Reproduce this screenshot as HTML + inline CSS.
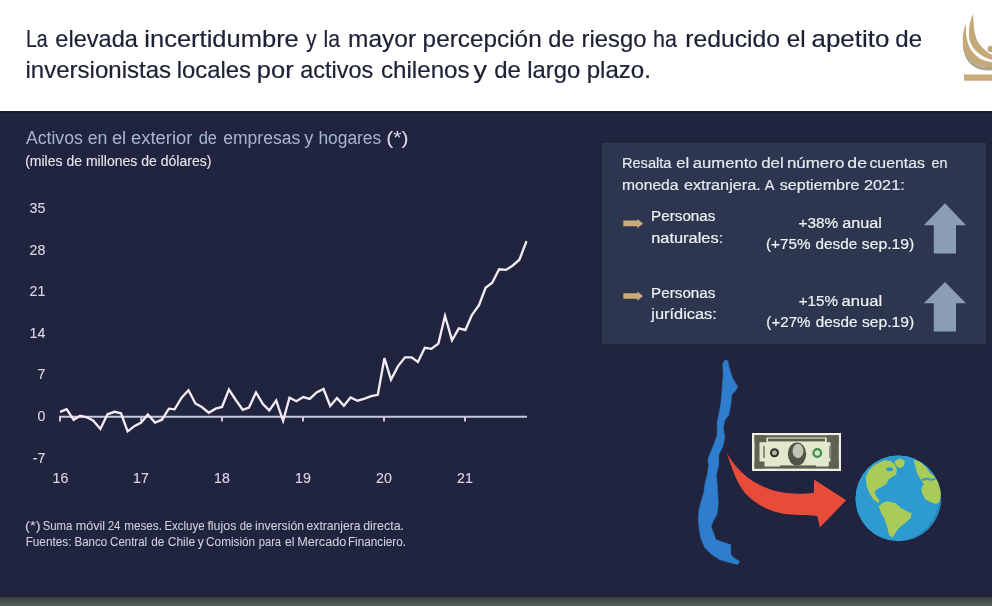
<!DOCTYPE html>
<html><head><meta charset="utf-8">
<style>
html,body{margin:0;padding:0;width:992px;height:606px;overflow:hidden;background:#20243e;}
svg{display:block;will-change:transform;}
text{font-family:"Liberation Sans",sans-serif;}
</style></head>
<body>
<svg width="992" height="606" viewBox="0 0 992 606">
<defs>
  <linearGradient id="btm" x1="0" y1="0" x2="0" y2="1">
    <stop offset="0" stop-color="#363e3e"/>
    <stop offset="0.5" stop-color="#485050"/>
    <stop offset="1" stop-color="#545b5b"/>
  </linearGradient>
  <clipPath id="gclip"><circle cx="308" cy="308" r="247"/></clipPath>
</defs>
<!-- header -->
<rect x="0" y="0" width="992" height="111" fill="#ffffff"/>
<rect x="0" y="111" width="992" height="2" fill="#1a1c31"/>
<rect x="0" y="113" width="992" height="480" fill="#20243e"/>
<rect x="0" y="593" width="992" height="4" fill="#1f2333"/>
<rect x="0" y="597" width="992" height="9" fill="url(#btm)"/>

<!-- title -->
<g fill="#1c2136" font-size="24" stroke="#1c2136" stroke-width="0.2">
  <text x="25.90" y="46.5" textLength="21.70" lengthAdjust="spacingAndGlyphs">La</text>
  <text x="55.30" y="46.5" textLength="82.60" lengthAdjust="spacingAndGlyphs">elevada</text>
  <text x="144.29" y="46.5" textLength="154.54" lengthAdjust="spacingAndGlyphs">incertidumbre</text>
  <text x="306.15" y="46.5" textLength="10.29" lengthAdjust="spacingAndGlyphs">y</text>
  <text x="323.47" y="46.5" textLength="16.53" lengthAdjust="spacingAndGlyphs">la</text>
  <text x="347.97" y="46.5" textLength="68.14" lengthAdjust="spacingAndGlyphs">mayor</text>
  <text x="422.63" y="46.5" textLength="119.05" lengthAdjust="spacingAndGlyphs">percepción</text>
  <text x="548.31" y="46.5" textLength="26.35" lengthAdjust="spacingAndGlyphs">de</text>
  <text x="581.62" y="46.5" textLength="64.78" lengthAdjust="spacingAndGlyphs">riesgo</text>
  <text x="653.01" y="46.5" textLength="23.89" lengthAdjust="spacingAndGlyphs">ha</text>
  <text x="685.26" y="46.5" textLength="94.88" lengthAdjust="spacingAndGlyphs">reducido</text>
  <text x="786.87" y="46.5" textLength="18.85" lengthAdjust="spacingAndGlyphs">el</text>
  <text x="811.50" y="46.5" textLength="77.79" lengthAdjust="spacingAndGlyphs">apetito</text>
  <text x="895.29" y="46.5" textLength="26.78" lengthAdjust="spacingAndGlyphs">de</text>
  <text x="25.49" y="78.2" textLength="145.58" lengthAdjust="spacingAndGlyphs">inversionistas</text>
  <text x="176.69" y="78.2" textLength="74.27" lengthAdjust="spacingAndGlyphs">locales</text>
  <text x="256.86" y="78.2" textLength="36.76" lengthAdjust="spacingAndGlyphs">por</text>
  <text x="300.30" y="78.2" textLength="72.94" lengthAdjust="spacingAndGlyphs">activos</text>
  <text x="380.97" y="78.2" textLength="88.60" lengthAdjust="spacingAndGlyphs">chilenos</text>
  <text x="473.43" y="78.2" textLength="13.52" lengthAdjust="spacingAndGlyphs">y</text>
  <text x="494.29" y="78.2" textLength="26.67" lengthAdjust="spacingAndGlyphs">de</text>
  <text x="527.19" y="78.2" textLength="53.01" lengthAdjust="spacingAndGlyphs">largo</text>
  <text x="586.65" y="78.2" textLength="64.25" lengthAdjust="spacingAndGlyphs">plazo.</text>
</g>

<!-- logo -->
<g>
  <rect x="964" y="74.4" width="28" height="6.3" fill="#c9ab79"/>
  <path d="M962.6,44 C963.2,56 968.5,64 976.8,68.3 C982,70.6 987,70.8 992,70.2 L992,67.1 C986,67 981,66.4 977.4,64.9 C970,61.2 965.5,56 962.6,44 Z" fill="#aca390"/>
  <path d="M966.1,23.2 C963,30 961.8,40 963.5,48 C965.5,56 970,61.2 977.4,64.9 C981,66.4 986,67 992,67.1 L992,62 C986,61.5 981,59.5 977.4,56.7 C972,52.5 969,47 967.3,41 C965.8,35 965.6,28 966.1,23.2 Z" fill="#c4a878"/>
  <path d="M973.1,13.4 C970,20 968.6,28 969,36 C969.5,42 972,48 977.4,52.3 C981,55.5 986,58.5 992,59.7 L992,54.9 C988,53.5 985.5,50.5 983.4,48.6 C980,45.5 978.5,43 977.4,41.1 C975.5,36.5 974.3,32 974,28 C973.6,22 973.3,17 973.1,13.4 Z" fill="#c4a878"/>
  <circle cx="990.8" cy="49" r="3.2" fill="#c4a878"/>
</g>

<!-- GEN START -->
<g font-size="18" fill="#a6b6cf" stroke="#a6b6cf" stroke-width="0.01">
<text x="25.97" y="143.8" textLength="56.77" lengthAdjust="spacingAndGlyphs">Activos</text>
<text x="87.75" y="143.8" textLength="19.70" lengthAdjust="spacingAndGlyphs">en</text>
<text x="111.93" y="143.8" textLength="14.19" lengthAdjust="spacingAndGlyphs">el</text>
<text x="131.02" y="143.8" textLength="61.39" lengthAdjust="spacingAndGlyphs">exterior</text>
<text x="198.71" y="143.8" textLength="18.32" lengthAdjust="spacingAndGlyphs">de</text>
<text x="223.26" y="143.8" textLength="76.98" lengthAdjust="spacingAndGlyphs">empresas</text>
<text x="304.16" y="143.8" textLength="9.08" lengthAdjust="spacingAndGlyphs">y</text>
<text x="318.39" y="143.8" textLength="62.83" lengthAdjust="spacingAndGlyphs">hogares</text>
</g>
<g font-size="18" fill="#dcdde6" stroke="#dcdde6" stroke-width="0.01"><text x="386.29" y="143.8" textLength="22.32" lengthAdjust="spacingAndGlyphs">(*)</text></g>
<g font-size="14.3" fill="#e8e8f0" stroke="#e8e8f0" stroke-width="0.1"><text x="25.13" y="166.1" textLength="186.24" lengthAdjust="spacingAndGlyphs">(miles de millones de dólares)</text></g>
<!-- GEN END -->

<!-- y labels -->
<g font-size="14.2" fill="#d8d9e4" stroke="#d8d9e4" stroke-width="0.12" text-anchor="end">
  <text x="45.4" y="213.2">35</text>
  <text x="45.4" y="254.7">28</text>
  <text x="45.4" y="296.2">21</text>
  <text x="45.4" y="337.7">14</text>
  <text x="45.4" y="379.2">7</text>
  <text x="45.4" y="420.7">0</text>
  <text x="45.4" y="462.7">-7</text>
</g>
<!-- x labels -->
<g font-size="14.2" fill="#d8d9e4" stroke="#d8d9e4" stroke-width="0.12" text-anchor="middle">
  <text x="60.4" y="483.1">16</text>
  <text x="141" y="483.1">17</text>
  <text x="222" y="483.1">18</text>
  <text x="303" y="483.1">19</text>
  <text x="384" y="483.1">20</text>
  <text x="465" y="483.1">21</text>
</g>

<!-- axis -->
<g stroke="#c6c8dc" stroke-width="2" fill="none">
  <line x1="59" y1="416.8" x2="527" y2="416.8"/>
  <line x1="60" y1="416" x2="60" y2="421.5"/>
  <line x1="141.2" y1="416" x2="141.2" y2="421.5"/>
  <line x1="222" y1="416" x2="222" y2="421.5"/>
  <line x1="303" y1="416" x2="303" y2="421.5"/>
  <line x1="384" y1="416" x2="384" y2="421.5"/>
  <line x1="465" y1="416" x2="465" y2="421.5"/>
</g>
<!-- data line -->
<polyline fill="none" stroke="#f4ebf4" stroke-width="2.35" stroke-linejoin="miter" points="60.1,411.8 66.6,409.2 73.7,419.8 80.2,415.8 86.8,417.3 93.3,420.8 100.4,428.9 107.5,414.3 114.5,411.8 121.0,413.3 127.6,431.4 134.7,425.9 141.2,422.6 147.9,414.5 155.0,422.5 161.9,419.7 168.9,408.7 174.6,409.3 181.6,397.7 188.5,390.2 195.4,403.5 201.8,407.0 208.7,412.7 215.6,408.7 222.0,407.0 228.9,389.6 235.8,400.0 242.7,409.8 249.0,407.5 256.0,392.5 262.9,404.0 269.3,410.4 276.2,400.6 283.1,420.8 289.5,397.7 296.4,401.2 303.3,397.1 309.7,398.9 316.6,392.5 323.5,389.0 330.2,406.0 337.0,398.1 343.9,405.7 350.5,397.4 357.6,400.7 364.6,398.6 371.2,396.1 377.8,394.8 384.4,358.2 391.0,379.6 397.9,366.4 405.0,357.3 411.6,357.3 417.9,362.0 424.8,347.8 431.4,348.8 438.4,343.6 445.0,315.8 452.0,340.3 458.8,328.4 465.4,330.0 471.9,315.0 479.0,305.1 485.6,287.8 492.2,282.8 499.1,269.3 505.9,269.9 512.8,265.5 519.4,259.7 526.5,241.2"/>

<!-- info box -->
<rect x="601" y="142" width="386" height="203" fill="#2c374f" stroke="#1b2034" stroke-width="1"/>
<!-- GEN2 START -->
<g font-size="15.2" fill="#e6e8ef" stroke="#e6e8ef" stroke-width="0.2">
<text x="621.90" y="168.4" textLength="49.60" lengthAdjust="spacingAndGlyphs">Resalta</text>
<text x="676.30" y="168.4" textLength="12.91" lengthAdjust="spacingAndGlyphs">el</text>
<text x="692.89" y="168.4" textLength="64.70" lengthAdjust="spacingAndGlyphs">aumento</text>
<text x="761.19" y="168.4" textLength="22.54" lengthAdjust="spacingAndGlyphs">del</text>
<text x="786.98" y="168.4" textLength="57.33" lengthAdjust="spacingAndGlyphs">número</text>
<text x="847.36" y="168.4" textLength="19.73" lengthAdjust="spacingAndGlyphs">de</text>
<text x="869.43" y="168.4" textLength="55.65" lengthAdjust="spacingAndGlyphs">cuentas</text>
<text x="931.49" y="168.4" textLength="15.94" lengthAdjust="spacingAndGlyphs">en</text>
<text x="622.06" y="189.5" textLength="56.44" lengthAdjust="spacingAndGlyphs">moneda</text>
<text x="683.91" y="189.5" textLength="76.98" lengthAdjust="spacingAndGlyphs">extranjera.</text>
<text x="764.87" y="189.5" textLength="9.66" lengthAdjust="spacingAndGlyphs">A</text>
<text x="779.65" y="189.5" textLength="79.77" lengthAdjust="spacingAndGlyphs">septiembre</text>
<text x="863.98" y="189.5" textLength="40.81" lengthAdjust="spacingAndGlyphs">2021:</text>
</g>
<g font-size="15.4" fill="#f0f1f5" stroke="#f0f1f5" stroke-width="0.2">
<text x="651.05" y="221.2" textLength="64.40" lengthAdjust="spacingAndGlyphs">Personas</text>
<text x="651.21" y="242.5" textLength="71.99" lengthAdjust="spacingAndGlyphs">naturales:</text>
<text x="651.05" y="298" textLength="64.40" lengthAdjust="spacingAndGlyphs">Personas</text>
<text x="651.30" y="318.9" textLength="65.49" lengthAdjust="spacingAndGlyphs">jurídicas:</text>
<text x="798.45" y="228" textLength="39.59" lengthAdjust="spacingAndGlyphs">+38%</text>
<text x="842.21" y="228" textLength="39.67" lengthAdjust="spacingAndGlyphs">anual</text>
<text x="766.06" y="248.5" textLength="44.39" lengthAdjust="spacingAndGlyphs">(+75%</text>
<text x="815.46" y="248.5" textLength="41.72" lengthAdjust="spacingAndGlyphs">desde</text>
<text x="861.86" y="248.5" textLength="52.51" lengthAdjust="spacingAndGlyphs">sep.19)</text>
<text x="798.76" y="305.9" textLength="39.18" lengthAdjust="spacingAndGlyphs">+15%</text>
<text x="841.60" y="305.9" textLength="40.51" lengthAdjust="spacingAndGlyphs">anual</text>
<text x="766.36" y="326.7" textLength="44.18" lengthAdjust="spacingAndGlyphs">(+27%</text>
<text x="815.86" y="326.7" textLength="41.62" lengthAdjust="spacingAndGlyphs">desde</text>
<text x="861.96" y="326.7" textLength="52.21" lengthAdjust="spacingAndGlyphs">sep.19)</text>
</g>
<g font-size="12" fill="#d0d3de" stroke="#d0d3de" stroke-width="0.05">
<text x="25.09" y="530.3" textLength="15.52" lengthAdjust="spacingAndGlyphs">(*)</text>
<text x="42.68" y="530.3" textLength="29.72" lengthAdjust="spacingAndGlyphs">Suma</text>
<text x="75.66" y="530.3" textLength="29.38" lengthAdjust="spacingAndGlyphs">móvil</text>
<text x="107.63" y="530.3" textLength="12.71" lengthAdjust="spacingAndGlyphs">24</text>
<text x="124.32" y="530.3" textLength="37.64" lengthAdjust="spacingAndGlyphs">meses.</text>
<text x="164.46" y="530.3" textLength="40.15" lengthAdjust="spacingAndGlyphs">Excluye</text>
<text x="207.42" y="530.3" textLength="28.92" lengthAdjust="spacingAndGlyphs">flujos</text>
<text x="239.73" y="530.3" textLength="12.58" lengthAdjust="spacingAndGlyphs">de</text>
<text x="255.08" y="530.3" textLength="48.91" lengthAdjust="spacingAndGlyphs">inversión</text>
<text x="306.58" y="530.3" textLength="54.02" lengthAdjust="spacingAndGlyphs">extranjera</text>
<text x="363.18" y="530.3" textLength="40.86" lengthAdjust="spacingAndGlyphs">directa.</text>
<text x="25.63" y="545.7" textLength="45.84" lengthAdjust="spacingAndGlyphs">Fuentes:</text>
<text x="74.45" y="545.7" textLength="32.73" lengthAdjust="spacingAndGlyphs">Banco</text>
<text x="110.12" y="545.7" textLength="36.95" lengthAdjust="spacingAndGlyphs">Central</text>
<text x="151.30" y="545.7" textLength="13.12" lengthAdjust="spacingAndGlyphs">de</text>
<text x="167.79" y="545.7" textLength="27.34" lengthAdjust="spacingAndGlyphs">Chile</text>
<text x="197.67" y="545.7" textLength="6.05" lengthAdjust="spacingAndGlyphs">y</text>
<text x="206.10" y="545.7" textLength="49.06" lengthAdjust="spacingAndGlyphs">Comisión</text>
<text x="258.68" y="545.7" textLength="22.42" lengthAdjust="spacingAndGlyphs">para</text>
<text x="285.09" y="545.7" textLength="9.42" lengthAdjust="spacingAndGlyphs">el</text>
<text x="297.17" y="545.7" textLength="49.06" lengthAdjust="spacingAndGlyphs">Mercado</text>
<text x="347.94" y="545.7" textLength="58.14" lengthAdjust="spacingAndGlyphs">Financiero.</text>
</g>
<!-- GEN2 END -->
<!-- gold arrows -->
<g fill="#c9aa78">
  <path d="M623.3,220.6 L637.4,220.6 L637.4,219 L643,223.5 L637.4,228.2 L637.4,226.2 L623.3,226.2 Z"/>
  <path d="M623.3,293.2 L637.4,293.2 L637.4,291.5 L643,296 L637.4,300.7 L637.4,298.8 L623.3,298.8 Z"/>
</g>
<!-- up arrows -->
<g fill="#8b9db6">
  <path d="M945,203.2 L966,225.2 L956,225.2 L956,253.5 L933.8,253.5 L933.8,225.2 L923.8,225.2 Z"/>
  <path d="M945,282 L966,303.2 L956,303.2 L956,331.5 L933.8,331.5 L933.8,303.2 L923.8,303.2 Z"/>
</g>

<!-- chile map -->
<path fill="#2f7dcd" stroke="#2f7dcd" stroke-width="1.2" stroke-opacity="0.55" stroke-linejoin="round" d="M725.2,360 L727.7,361 L729.7,369.9 L732.7,378.8 L735.6,383.7 L737.6,386.7 L735.6,390.6 L731.7,394.6 L730.7,404.5 L728.7,415 L724.7,419.9 L723.2,427.8 L724.7,437.7 L722.7,446.6 L718.8,454.6 L718.5,465 L716.2,474.9 L717.2,484.8 L717.7,494.7 L718.2,502.6 L717,514 L713,521 L711,527 L713.5,533 L715.7,539.8 L724.7,542.7 L730.6,544.7 L730.6,554.6 L734.6,558.6 L739.5,561.5 L737.5,564.5 L729.6,562.5 L719.7,559.6 L711.8,554.6 L704.9,547.7 L700.9,537.8 L699.4,529.9 L698.4,520 L698.9,510.5 L700.9,502.6 L703.9,492.7 L704.9,484.8 L707.3,474.9 L708.8,465 L707.9,459.5 L709.9,454.6 L713.8,444.7 L717.3,434.8 L717.3,421.9 L718.8,415 L720.8,404.5 L721.8,394.6 L722.3,386.7 L723.3,374.8 L722.8,363.9 Z"/>

<!-- dollar bill -->
<g>
  <rect x="752" y="433" width="89" height="38" fill="#eef0e4"/>
  <rect x="754.5" y="435.2" width="84.3" height="33.4" fill="#5d6252"/>
  <rect x="759.5" y="437.5" width="71" height="29" rx="4" fill="#e3e8cc"/>
  <rect x="754.5" y="435.2" width="12" height="7" fill="#5d6252"/>
  <rect x="826.8" y="435.2" width="12" height="7" fill="#5d6252"/>
  <rect x="754.5" y="461.5" width="10" height="7" fill="#5d6252"/>
  <rect x="828.8" y="461.5" width="10" height="7" fill="#5d6252"/>
  <rect x="768" y="438.6" width="57" height="2.8" fill="#5a5f50"/>
  <rect x="780" y="465.4" width="36" height="2.6" fill="#5a5f50"/>
  <ellipse cx="797" cy="454" rx="9.2" ry="11.5" fill="#50554a"/>
  <ellipse cx="798" cy="451" rx="5.5" ry="7.2" fill="#c2c5b2"/>
  <circle cx="774.5" cy="452.7" r="3.5" fill="#b4b6a6" stroke="#2b2c28" stroke-width="2"/>
  <circle cx="817.3" cy="453" r="3.8" fill="#d6e4c8" stroke="#3d8b50" stroke-width="2.2"/>
  <rect x="763" y="446" width="2" height="12" fill="#8a8e7e"/>
  <rect x="829" y="446" width="2" height="12" fill="#8a8e7e"/>
</g>

<!-- red arrow -->
<path fill="#e84b3a" d="M726.6,452.4 C735,468 750,483 772.8,490.3 C790,495 805,494 814,492.8 L814,479.6 L846.2,500.2 L819.8,527.5 L817.3,515.9 C805,515 793,515 784.3,514 C768,511 756,504 748,496 C740,488 735,478 726.6,452.4 Z"/>

<!-- globe -->
<g transform="translate(845,445) scale(0.17327)">
  <circle cx="308" cy="308" r="247" fill="#2d9bcf"/>
  <g clip-path="url(#gclip)">
    <circle cx="270" cy="290" r="250" fill="#2d9bcf"/>
    <path fill="#2385b8" d="M430,80 A247,247 0 0 1 308,555 A260,260 0 0 0 430,80 Z"/>
    <g fill="#a9cc58">
      <path d="M120,185 L135,150 L165,120 L200,100 L230,88 L262,92 L285,110 L300,140 L295,170 L270,185 L250,200 L240,225 L215,240 L185,255 L170,270 L180,295 L200,320 L190,335 L160,310 L140,275 L125,240 Z"/>
      <path d="M285,95 L315,78 L345,90 L340,120 L315,135 L295,120 Z"/>
      <path d="M195,355 L215,335 L245,325 L290,335 L325,365 L385,395 L380,420 L355,445 L320,470 L295,500 L275,535 L255,520 L245,480 L230,430 L210,395 Z"/>
      <path d="M395,85 L430,95 L470,130 L490,160 L520,185 L545,220 L555,280 L545,330 L525,340 L495,330 L465,315 L445,280 L440,250 L455,225 L440,205 L415,160 L405,120 Z"/>
    </g>
    <g fill="#2d9bcf">
      <ellipse cx="258" cy="140" rx="20" ry="11"/>
      <path d="M440,198 L470,188 L500,196 L525,188 L530,196 L500,206 L470,200 L445,208 Z"/>
    </g>
  </g>
</g>
</svg>
</body></html>
